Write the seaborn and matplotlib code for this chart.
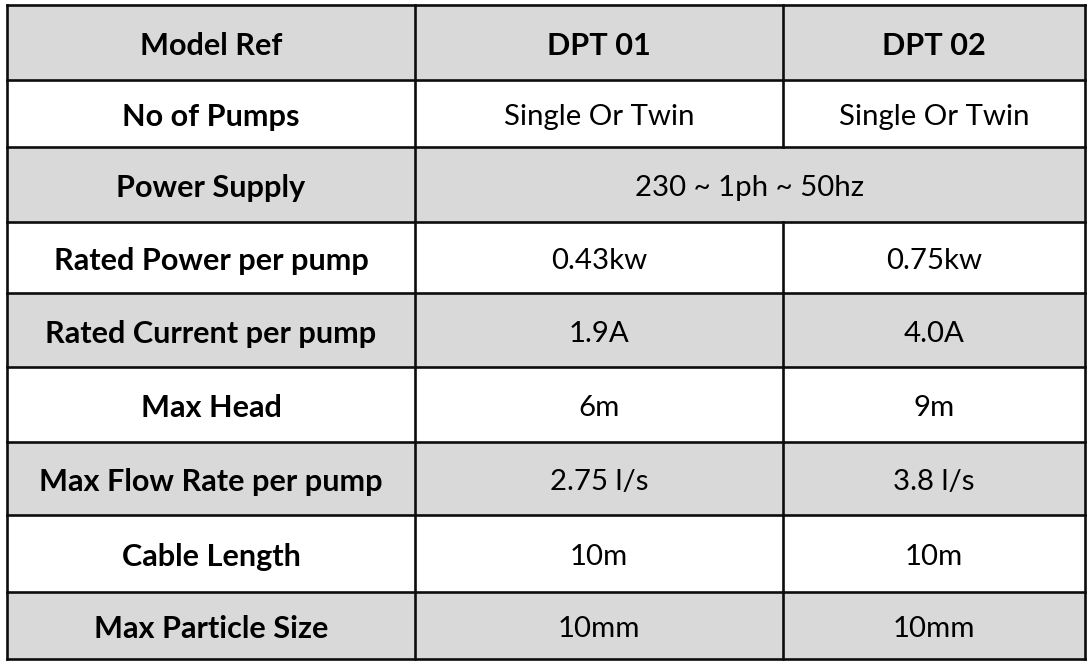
import matplotlib
matplotlib.use("Agg")
import matplotlib.pyplot as plt
import seaborn as sns
from matplotlib.patches import Rectangle

# ---- data ----
header = ["Model Ref", "DPT 01", "DPT 02"]
row_labels = ["No of Pumps", "Power Supply", "Rated Power per pump",
              "Rated Current per pump", "Max Head", "Max Flow Rate per pump",
              "Cable Length", "Max Particle Size"]
dpt01 = ["Single Or Twin", "230 ~ 1ph ~ 50hz", "0.43kw", "1.9A", "6m",
         "2.75 l/s", "10m", "10mm"]
dpt02 = ["Single Or Twin", None, "0.75kw", "4.0A", "9m",
         "3.8 l/s", "10m", "10mm"]

# ---- layout (pixels) ----
col_edges = [7, 415, 783, 1085]
row_edges = [5, 80, 147, 222, 293, 367, 442, 515, 592, 659]
grey = "#d9d9d9"
line_col = "#0d0d0d"
lw = 1.9

sns.set_theme(style="white")
plt.rcParams['font.family'] = ['Lato', 'DejaVu Sans']

fig = plt.figure(figsize=(10.9, 6.68), dpi=100)
ax = fig.add_axes([0, 0, 1, 1])
ax.set_xlim(0, 1090)
ax.set_ylim(668, 0)
ax.axis("off")

rows = [header] + [[l, a, b] for l, a, b in zip(row_labels, dpt01, dpt02)]

# auto-fit font sizes to reference text widths
renderer = fig.canvas.get_renderer()
def fit(text, weight, target_px):
    t = ax.text(0, 0, text, fontsize=20, fontweight=weight)
    w = t.get_window_extent(renderer).width
    t.remove()
    return 20 * target_px / w
fs_bold = fit("Max Flow Rate per pump", "bold", 343)
fs_reg = fit("Single Or Twin", "normal", 191)

for i, row in enumerate(rows):
    y0, y1 = row_edges[i], row_edges[i + 1]
    fc = grey if i % 2 == 0 else "white"
    ax.add_patch(Rectangle((col_edges[0], y0), col_edges[-1] - col_edges[0], y1 - y0,
                           facecolor=fc, edgecolor="none", zorder=0))
    yc = (y0 + y1) / 2 + 3.5
    # first column
    ax.text((col_edges[0] + col_edges[1]) / 2, yc, row[0], ha="center", va="center",
            fontsize=fs_bold, fontweight="bold", color="black")
    merged = row[2] is None
    if merged:
        ax.text((col_edges[1] + col_edges[3]) / 2, yc, row[1], ha="center", va="center",
                fontsize=fs_reg, color="black")
    else:
        for j in (1, 2):
            ax.text((col_edges[j] + col_edges[j + 1]) / 2, yc, row[j], ha="center",
                    va="center", fontsize=fs_bold if i == 0 else fs_reg,
                    fontweight="bold" if i == 0 else "normal", color="black")
    # middle vertical divider
    if not merged:
        ax.plot([col_edges[2], col_edges[2]], [y0, y1], color=line_col, lw=lw,
                solid_capstyle="projecting", zorder=3)

for y in row_edges:
    ax.plot([col_edges[0], col_edges[-1]], [y, y], color=line_col, lw=lw,
            solid_capstyle="projecting", zorder=3)
for x in (col_edges[0], col_edges[1], col_edges[3]):
    ax.plot([x, x], [row_edges[0], row_edges[-1]], color=line_col, lw=lw,
            solid_capstyle="projecting", zorder=3)

fig.savefig("out.png", dpi=100)
